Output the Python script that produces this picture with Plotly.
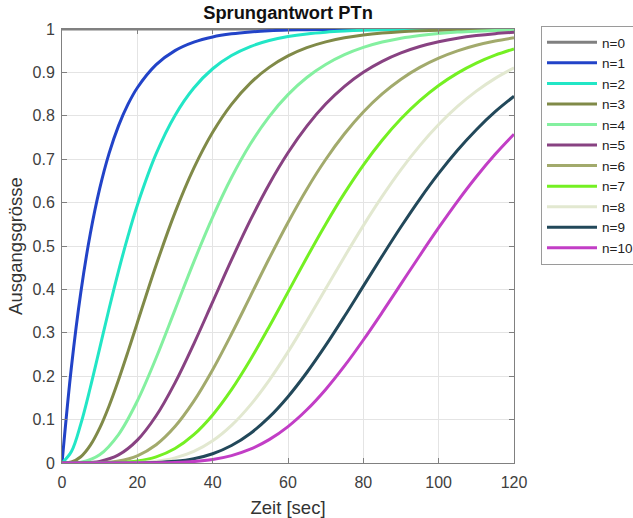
import plotly.graph_objects as go

# fine time grid for the fast responses (n=1..3)
tf = [0, 2.5, 5, 7.5, 10, 12.5, 15, 17.5, 20, 25, 30, 35, 40, 45, 50, 55, 60, 65, 70, 75, 80, 85, 90, 95, 100, 105, 110, 115, 120]
# coarse time grid for the others
t = [0, 5, 10, 15, 20, 25, 30, 35, 40, 45, 50, 55, 60, 65, 70, 75, 80, 85, 90, 95, 100, 105, 110, 115, 120]

y0 = [1] * 25
y1 = [0, .2212, .3935, .5276, .6321, .7135, .7769, .8262, .8647, .9179, .9502, .9698, .9817, .9889, .9933, .9959, .9975, .9985, .9991, .9994, .9997, .9998, .9999, .9999, 1, 1, 1, 1, 1]
y2 = [0, .0265, .0902, .1734, .2642, .3554, .4422, .5221, .5940, .7127, .8009, .8641, .9084, .9389, .9596, .9734, .9826, .9887, .9927, .9953, .9970, .9981, .9988, .9992, .9995, .9997, .9998, .9999, .9999]
y3 = [0, .0022, .0144, .0405, .0803, .1315, .1912, .2560, .3233, .4562, .5768, .6792, .7619, .8264, .8753, .9116, .9380, .9570, .9704, .9797, .9862, .9907, .9938, .9958, .9972, .9982, .9988, .9992, .9995]
y4 = [0, .0018, .0190, .0656, .1429, .2424, .3528, .4634, .5665, .6577, .7350, .7983, .8488, .8882, .9182, .9409, .9576, .9699, .9788, .9851, .9897, .9929, .9951, .9966, .9977]
y5 = [0, .0002, .0037, .0186, .0527, .1088, .1847, .2746, .3712, .4679, .5595, .6425, .7149, .7763, .8270, .8679, .9004, .9256, .9450, .9597, .9707, .9789, .9849, .9893, .9924]
y6 = [0, 0, .0006, .0045, .0166, .0420, .0839, .1424, .2149, .2971, .3840, .4711, .5543, .6310, .6993, .7586, .8088, .8504, .8843, .9115, .9329, .9496, .9625, .9723, .9797]
y7 = [0, 0, .0001, .0009, .0045, .0142, .0335, .0653, .1107, .1689, .2378, .3140, .3937, .4735, .5503, .6218, .6866, .7438, .7932, .8350, .8699, .8984, .9214, .9397, .9542]
y8 = [0, 0, 0, .0002, .0011, .0043, .0119, .0267, .0511, .0866, .1334, .1905, .2560, .3273, .4013, .4754, .5470, .6144, .6761, .7313, .7798, .8215, .8568, .8863, .9105]
y9 = [0, 0, 0, 0, .0002, .0011, .0038, .0099, .0214, .0403, .0681, .1056, .1528, .2085, .2709, .3380, .4075, .4769, .5443, .6082, .6672, .7206, .7680, .8094, .8450]
y10 = [0, 0, 0, 0, .0001, .0003, .0011, .0033, .0081, .0171, .0318, .0538, .0839, .1226, .1695, .2236, .2834, .3470, .4126, .4782, .5421, .6029, .6595, .7112, .7576]

series = [(t, y0), (tf, y1), (tf, y2), (tf, y3), (t, y4), (t, y5), (t, y6), (t, y7), (t, y8), (t, y9), (t, y10)]
names = ["n=0", "n=1", "n=2", "n=3", "n=4", "n=5", "n=6", "n=7", "n=8", "n=9", "n=10"]
colors = ["#808080", "#2243c8", "#22e6c6", "#808a48", "#84f0a0", "#884282",
          "#a2aa6c", "#74f022", "#e2e8d0", "#22485a", "#c23ec6"]

x_ticks = [0, 20, 40, 60, 80, 100, 120]
y_ticks = [0, 0.1, 0.2, 0.3, 0.4, 0.5, 0.6, 0.7, 0.8, 0.9, 1]
y_tick_labels = ["0", "0.1", "0.2", "0.3", "0.4", "0.5", "0.6", "0.7", "0.8", "0.9", "1"]

fig = go.Figure()
for name, (xs, ys), col in zip(names, series, colors):
    fig.add_trace(go.Scatter(
        x=xs, y=ys, name=name, mode="lines",
        line=dict(color=col, width=3, shape="spline", smoothing=1.0),
        cliponaxis=False,
    ))

font_family = "Liberation Sans, Arial, sans-serif"
fig.update_layout(
    width=633, height=518,
    margin=dict(l=62, r=119, t=29, b=55, autoexpand=False),
    paper_bgcolor="white", plot_bgcolor="white",
    font=dict(family=font_family, size=16, color="#404040"),
    title=dict(text="<b>Sprungantwort PTn</b>", x=0.455, xref="container", xanchor="center",
               y=1 - 13 / 518, yref="container", yanchor="middle",
               font=dict(size=18.3, color="#111111")),
    showlegend=True,
    legend=dict(x=541 / 633, y=1 - 26 / 518, xref="container", yref="container",
                xanchor="left", yanchor="top",
                bgcolor="white", bordercolor="#9a9a9a", borderwidth=1,
                font=dict(size=13.5, color="#222222"),
                itemwidth=50, tracegroupgap=0, itemclick=False),
)
fig.update_xaxes(
    range=[0, 120], tickvals=x_ticks, ticktext=[str(v) for v in x_ticks],
    showgrid=True, gridcolor="#e4e4e4", gridwidth=1,
    showline=True, linecolor="#808080", linewidth=1, mirror="ticks",
    ticks="inside", ticklen=5, tickcolor="#808080", zeroline=False,
    ticklabelstandoff=5, automargin=False, tickfont=dict(size=16),
    title=dict(text="Zeit [sec]", font=dict(size=18.5, color="#333333"), standoff=10),
)
fig.update_yaxes(
    range=[0, 1], tickvals=y_ticks, ticktext=y_tick_labels,
    showgrid=True, gridcolor="#e4e4e4", gridwidth=1,
    showline=True, linecolor="#808080", linewidth=1, mirror="ticks",
    ticks="inside", ticklen=5, tickcolor="#808080", zeroline=False,
    ticklabelstandoff=3, automargin=False, tickfont=dict(size=16),
    title=dict(text="Ausgangsgrösse", font=dict(size=18.5, color="#333333"), standoff=5),
)

fig.write_html("out.html", config={"displayModeBar": False},
               post_script="document.body.style.margin='0';document.body.style.overflow='hidden';")
